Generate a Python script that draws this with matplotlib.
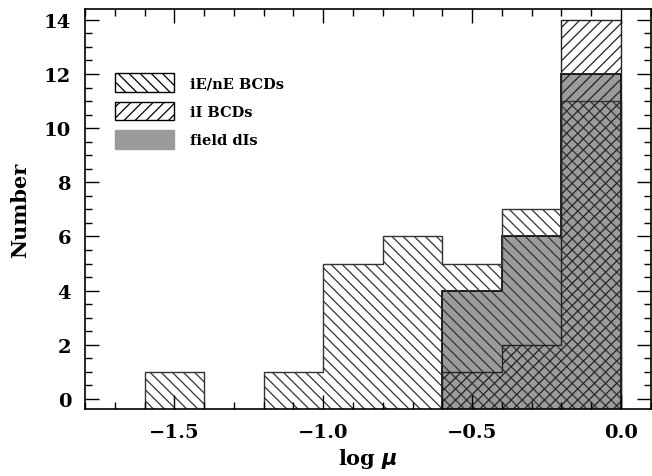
import matplotlib
matplotlib.use("Agg")
import matplotlib.pyplot as plt
import numpy as np
from matplotlib.patches import Patch
from matplotlib.ticker import MultipleLocator

plt.rcParams['font.family'] = ['DejaVu Serif']
plt.rcParams['font.weight'] = 'bold'
plt.rcParams['axes.labelweight'] = 'bold'
plt.rcParams['hatch.linewidth'] = 0.9

bin_edges = [-1.6, -1.4, -1.2, -1.0, -0.8, -0.6, -0.4, -0.2, 0.0]
ie_ne_bcds = [1, 0, 1, 5, 6, 5, 7, 11]
ii_bcds = [0, 0, 0, 0, 0, 1, 2, 14]
field_dis = [0, 0, 0, 0, 0, 4, 6, 12]

fig = plt.figure(figsize=(6.52, 4.77), dpi=100)
ax = fig.add_axes([0.1304, 0.1405, 0.998 - 0.1304, 0.979 - 0.1405])

base = -1.0


def drop_empty(vals):
    v = np.asarray(vals, dtype=float)
    return np.where(v > 0, v, base)


ax.stairs(drop_empty(field_dis), bin_edges, baseline=base, fill=True,
          facecolor='#9b9b9b', edgecolor='black', linewidth=1.2)
ax.stairs(drop_empty(ie_ne_bcds), bin_edges, baseline=base, fill=True,
          facecolor='none', edgecolor='#333333', hatch='\\\\\\',
          linewidth=1.0)
ax.stairs(drop_empty(ii_bcds), bin_edges, baseline=base, fill=True,
          facecolor='none', edgecolor='#222222', hatch='///', linewidth=1.0)

ax.set_xlim(-1.8, 0.1)
ax.set_ylim(-0.37, 14.4)
ax.xaxis.set_minor_locator(MultipleLocator(0.1))
ax.yaxis.set_major_locator(MultipleLocator(2))
ax.yaxis.set_minor_locator(MultipleLocator(0.5))
ax.set_xticks([-1.5, -1.0, -0.5, 0.0])
ax.set_xticklabels(['\u22121.5', '\u22121.0', '\u22120.5', '0.0'])
ax.tick_params(which='both', direction='in', top=True, right=True,
               labelsize=14, width=1.0)
ax.tick_params(which='major', length=10, pad=10)
ax.tick_params(which='minor', length=5)
for s in ax.spines.values():
    s.set_linewidth(1.2)
    s.set_zorder(5)

ax.set_xlabel(r'log $\mu$', fontsize=15, labelpad=4)
ax.set_ylabel('Number', fontsize=15, labelpad=10)

handles = [
    Patch(facecolor='white', edgecolor='black', hatch='\\\\\\'),
    Patch(facecolor='white', edgecolor='black', hatch='///'),
    Patch(facecolor='#9b9b9b', edgecolor='#9b9b9b'),
]
labels = ['iE/nE BCDs', 'iI BCDs', 'field dIs']
ax.legend(handles, labels, loc='upper left', bbox_to_anchor=(0.029, 0.872),
          frameon=False, handlelength=4.1, handleheight=1.6,
          labelspacing=0.66, handletextpad=1.1,
          prop={'weight': 'bold', 'size': 10.5})

fig.savefig('out.png', dpi=100)
